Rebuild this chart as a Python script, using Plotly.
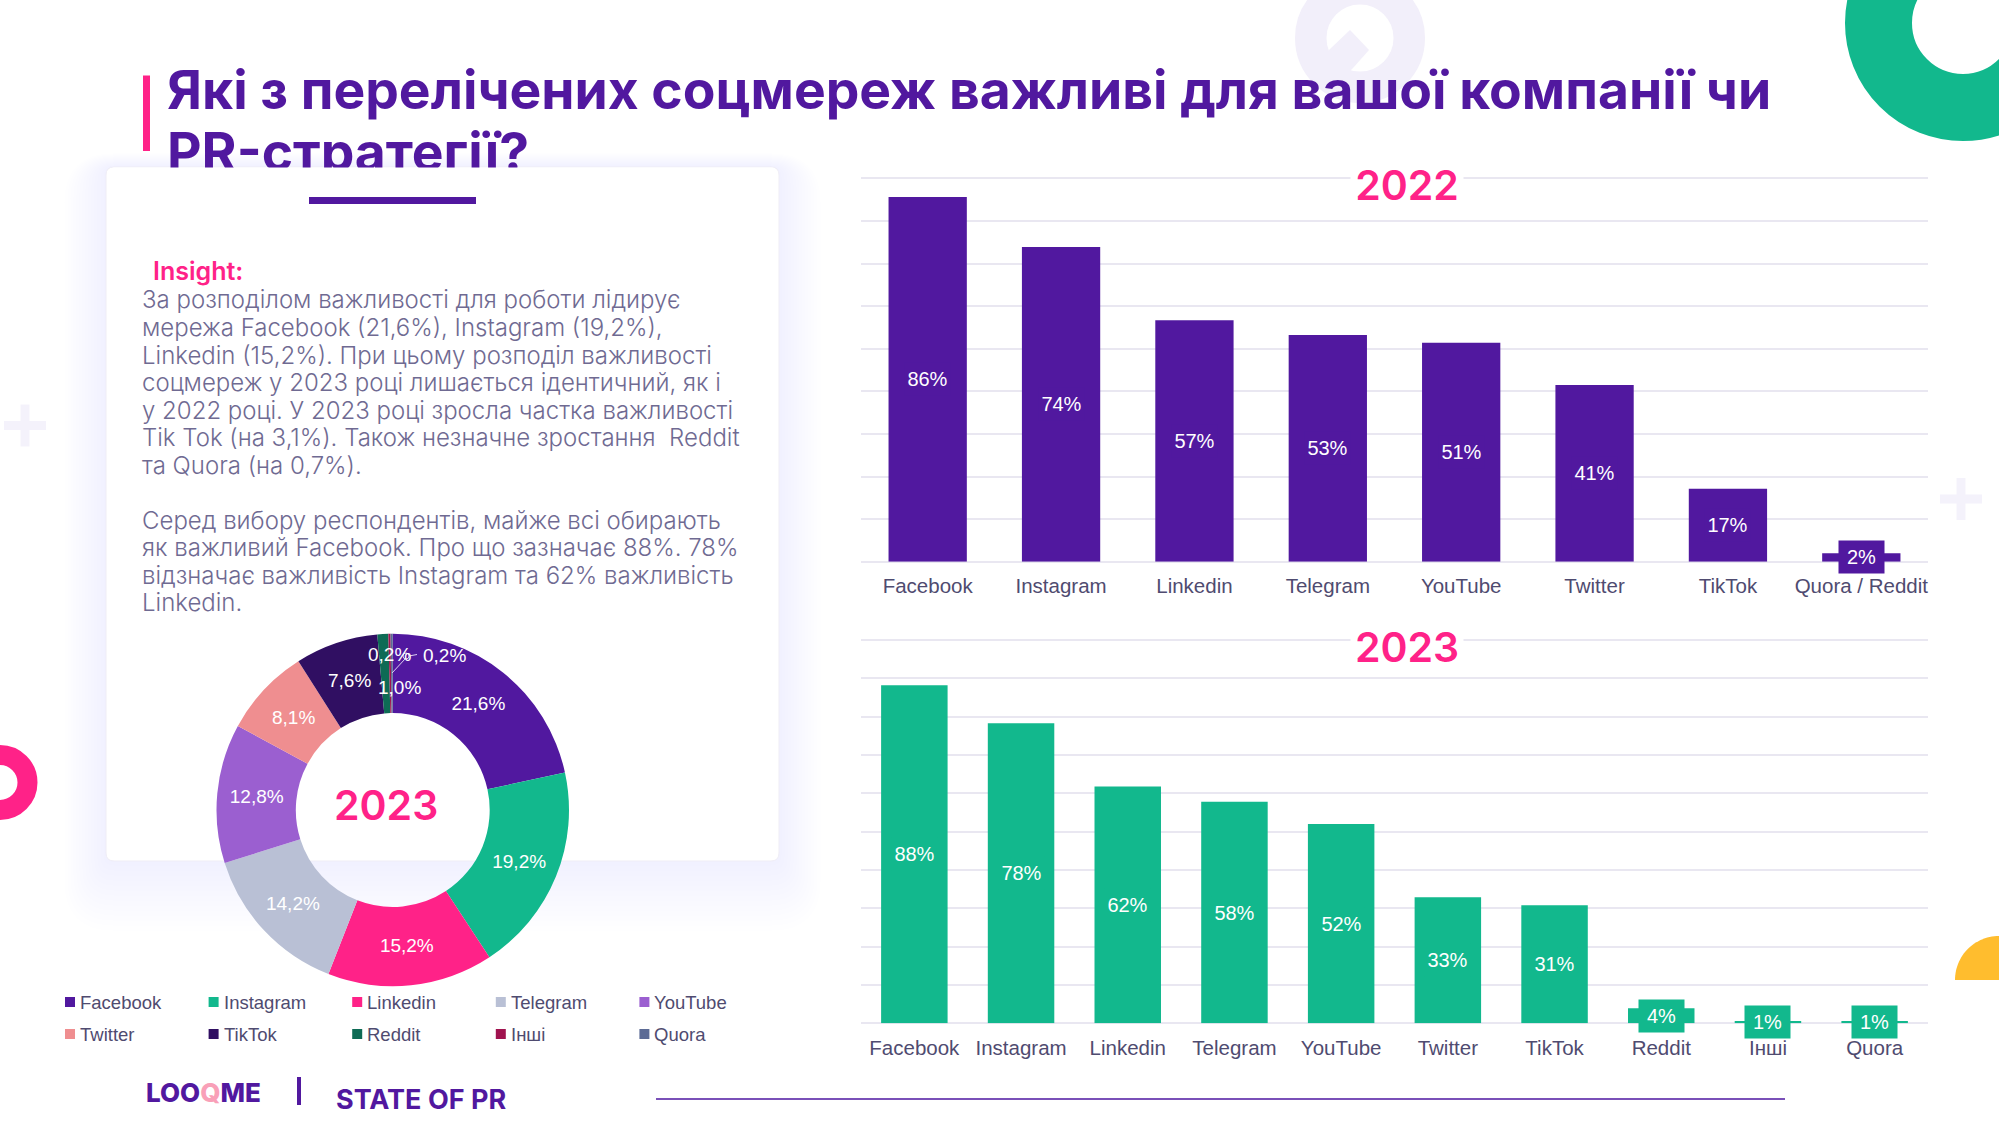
import numpy as np
import plotly.graph_objects as go

W = 1999
H = 1125

# datos
cats_2022 = ['Facebook', 'Instagram', 'Linkedin', 'Telegram', 'YouTube', 'Twitter', 'TikTok', 'Quora / Reddit']
vals_2022 = [85.6, 73.9, 56.7, 53.2, 51.4, 41.5, 17.1, 2.0]
labels_2022 = ['86%', '74%', '57%', '53%', '51%', '41%', '17%', '2%']

cats_2023 = ['Facebook', 'Instagram', 'Linkedin', 'Telegram', 'YouTube', 'Twitter', 'TikTok', 'Reddit', 'Інші', 'Quora']
vals_2023 = [88.2, 78.3, 61.8, 57.8, 52.0, 32.9, 30.8, 3.9, 0.6, 0.6]
labels_2023 = ['88%', '78%', '62%', '58%', '52%', '33%', '31%', '4%', '1%', '1%']

pie_names = ['Facebook', 'Instagram', 'Linkedin', 'Telegram', 'YouTube', 'Twitter', 'TikTok', 'Reddit', 'Інші', 'Quora']
pie_vals = [21.6, 19.2, 15.2, 14.2, 12.8, 8.1, 7.6, 1.0, 0.2, 0.2]
pie_colors = ['#51189F', '#12B88D', '#FF2288', '#B9C0D5', '#9B5FD0', '#EF8E90', '#300F62', '#0E6B55', '#A0134F', '#5C6B95']

title_lines = ['Які з перелічених соцмереж важливі для вашої компанії чи', 'PR-стратегії?']
body_lines = [
    'За розподілом важливості для роботи лідирує',
    'мережа Facebook (21,6%), Instagram (19,2%),',
    'Linkedin (15,2%). При цьому розподіл важливості',
    'соцмереж у 2023 році лишається ідентичний, як і',
    'у 2022 році. У 2023 році зросла частка важливості',
    'Tik Tok (на 3,1%). Також незначне зростання  Reddit',
    'та Quora (на 0,7%).',
    '',
    'Серед вибору респондентів, майже всі обирають',
    'як важливий Facebook. Про що зазначає 88%. 78%',
    'відзначає важливість Instagram та 62% важливість',
    'Linkedin.',
]

PURPLE = '#51189F'
GREEN = '#12B88D'
PINK = '#FF2288'
GRID = '#E9E7F1'
LAV = '#F2EFFA'
PLUS = '#F4F2FB'
TICK = '#4F4B70'
TEXT = '#6F6A92'
HEAD = 'Inter'
SANS = 'Liberation Sans'


def px(x):
    return x / W


def py(y):
    return 1 - y / H


def note(x, y, text, size, color, font=HEAD, weight=400, xa='left', ya='middle', **kw):
    return dict(x=px(x), y=py(y), xref='paper', yref='paper', text=text, showarrow=False,
                xanchor=xa, yanchor=ya, font=dict(family=font, size=size, color=color, weight=weight), **kw)


def line(x0, y0, x1, y1, color, width, layer='below', **kw):
    return dict(type='line', xref='paper', yref='paper', x0=px(x0), y0=py(y0), x1=px(x1), y1=py(y1),
                line=dict(color=color, width=width), layer=layer, **kw)


def rect(x0, y0, x1, y1, fill, **kw):
    return dict(type='rect', xref='paper', yref='paper', x0=px(x0), y0=py(y0), x1=px(x1), y1=py(y1),
                fillcolor=fill, line=dict(width=0), layer='below', **kw)


def round_rect(x0, y0, x1, y1, r, fill, border=None, **kw):
    p = lambda a, b: f'{px(a):.5f},{py(b):.5f}'
    path = (f'M {p(x0 + r, y0)} L {p(x1 - r, y0)} Q {p(x1, y0)} {p(x1, y0 + r)} '
            f'L {p(x1, y1 - r)} Q {p(x1, y1)} {p(x1 - r, y1)} '
            f'L {p(x0 + r, y1)} Q {p(x0, y1)} {p(x0, y1 - r)} '
            f'L {p(x0, y0 + r)} Q {p(x0, y0)} {p(x0 + r, y0)} Z')
    ln = dict(color=border, width=1) if border else dict(width=0)
    return dict(type='path', xref='paper', yref='paper', path=path, fillcolor=fill, line=ln, layer='below', **kw)


def ring(cx, cy, r_in, r_out, color):
    r = (r_in + r_out) / 2
    return dict(type='circle', xref='paper', yref='paper', x0=px(cx - r), y0=py(cy + r), x1=px(cx + r), y1=py(cy - r),
                fillcolor='rgba(0,0,0,0)', line=dict(color=color, width=r_out - r_in), layer='below')


def poly(points, color):
    path = 'M ' + ' L '.join(f'{px(a):.5f},{py(b):.5f}' for a, b in points) + ' Z'
    return dict(type='path', xref='paper', yref='paper', path=path, fillcolor=color, line=dict(width=0), layer='below')


fig = go.Figure()

fig.add_trace(go.Bar(x=cats_2022, y=vals_2022, marker=dict(color=PURPLE, line=dict(width=0)),
                     xaxis='x', yaxis='y', hoverinfo='x+y', showlegend=False, width=0.587))
fig.add_trace(go.Bar(x=cats_2023, y=vals_2023, marker=dict(color=GREEN, line=dict(width=0)),
                     xaxis='x2', yaxis='y2', hoverinfo='x+y', showlegend=False, width=0.623))

pie_text = [(f'{v:.1f}'.replace('.', ',') + '%') if v > 10 else '' for v in pie_vals]
fig.add_trace(go.Pie(labels=pie_names, values=pie_vals, text=pie_text, textinfo='text', textposition='inside',
                     insidetextorientation='horizontal', textfont=dict(family=SANS, size=19, color='white'),
                     marker=dict(colors=pie_colors, line=dict(width=0)), hole=0.55, sort=False,
                     direction='clockwise', rotation=0, showlegend=False,
                     domain=dict(x=[px(216.5), px(569)], y=[py(986.5), py(633.5)])))

shapes = []
annotations = []

# decoracion de fondo
shapes.append(ring(1360, 38, 33.5, 65, LAV))
shapes.append(poly([(1329, 50), (1350, 30), (1369, 50), (1353, 68), (1345, 76), (1327, 62)], LAV))
shapes.append(ring(1963, 23, 51, 118, GREEN))
shapes.append(ring(0, 782.5, 17.5, 37.5, PINK))
t = np.linspace(np.pi, np.pi * 1.5, 30)
shapes.append(poly([(1999, 980)] + [(1999 + 44 * np.cos(a), 980 + 44 * np.sin(a)) for a in t], '#FFBD2E'))
for cx, cy in [(25, 425.5), (1961, 499)]:
    shapes.append(line(cx - 21, cy, cx + 21, cy, PLUS, 9))
    shapes.append(line(cx, cy - 21, cx, cy + 21, PLUS, 9))

# tarjeta con sombra
for k in range(1, 15):
    shapes.append(round_rect(106 - 3 * k, 167 - 1 * k, 779 + 3 * k, 861 + 5 * k, 8 + 3 * k, '#403A80', opacity=0.003))
shapes.append(round_rect(106, 167, 779, 861, 8, 'white', border='#EFEDF6'))
shapes.append(line(309, 200.5, 476, 200.5, PURPLE, 7))
shapes.append(rect(143, 75.5, 150, 151, PINK))

# titulo
for i, txt in enumerate(title_lines):
    annotations.append(note(165, 89 + i * 62, txt, 53.4, PURPLE, weight=700))
# la tarjeta corta la segunda linea del titulo
annotations.append(dict(x=px(442.5), y=py(167.5), xref='paper', yref='paper', text=' ', showarrow=False,
                        xanchor='center', yanchor='top', width=660, height=20, bgcolor='white', borderpad=0))

annotations.append(note(151, 271, 'Insight:', 25, PINK, weight=600))
for i, txt in enumerate(body_lines):
    if txt:
        annotations.append(note(139.5, 300 + i * 27.5, txt, 24, TEXT, weight=300))

# etiquetas de barras
for cats, vals, labels, xr, yr, col in [(cats_2022, vals_2022, labels_2022, 'x', 'y', PURPLE),
                                        (cats_2023, vals_2023, labels_2023, 'x2', 'y2', GREEN)]:
    for c, v, lab in zip(cats, vals, labels):
        annotations.append(dict(x=c, y=v / 2, xref=xr, yref=yr, text=lab, showarrow=False, width=43, height=30,
                                bgcolor=col, font=dict(family=SANS, size=20, color='white')))

annotations.append(note(1407, 185, '2022', 41, PINK, weight=600, xa='center', bgcolor='white', width=110, height=44))
annotations.append(note(1407, 647, '2023', 41, PINK, weight=600, xa='center', bgcolor='white', width=110, height=44))
annotations.append(note(386, 805, '2023', 41, PINK, weight=600, xa='center'))

# etiquetas pequeñas del anillo
annotations.append(note(293, 717, '8,1%', 19, 'white', font=SANS, xa='center'))
annotations.append(note(349.5, 681, '7,6%', 19, 'white', font=SANS, xa='center'))
annotations.append(note(389, 654, '0,2%', 19, 'white', font=SANS, xa='center'))
annotations.append(note(444, 655, '0,2%', 19, 'white', font=SANS, xa='center'))
annotations.append(note(399, 687, '1,0%', 19, 'white', font=SANS, xa='center'))
shapes.append(line(409, 656, 417, 654.5, '#DCCFF0', 1, layer='above'))
shapes.append(line(405, 659, 392, 673, '#DCCFF0', 1, layer='above'))
shapes.append(dict(type='circle', xref='paper', yref='paper', x0=px(403), y0=py(659), x1=px(409), y1=py(653),
                   line=dict(color='#DCCFF0', width=1), layer='above'))

# leyenda
for i, (name, col) in enumerate(zip(pie_names, pie_colors)):
    lx = 65 + 143.6 * (i % 5)
    ly = 1002 + 32 * (i // 5)
    shapes.append(rect(lx, ly - 5, lx + 10, ly + 5, col))
    annotations.append(note(lx + 13, ly, name, 18.5, TICK, font=SANS))

# pie de pagina
annotations.append(note(144, 1092.5, 'LOO<span style="color:#F9A0B8">Q</span>ME', 26, PURPLE, weight=800))
shapes.append(line(299, 1077, 299, 1105, PURPLE, 4))
annotations.append(note(334, 1099, 'STATE OF PR', 27, PURPLE, weight=700))
shapes.append(line(656, 1099, 1785, 1099, '#7A50B8', 2))

axis_common = dict(tickfont=dict(family=SANS, size=20.5, color=TICK), ticks='outside', ticklen=6,
                   tickcolor='rgba(0,0,0,0)', tickangle=0, showline=False, showgrid=False, zeroline=False,
                   fixedrange=True)
grid_common = dict(showgrid=True, gridcolor=GRID, gridwidth=2, zeroline=True, zerolinecolor=GRID, zerolinewidth=2,
                   showticklabels=False, ticks='', dtick=10, showline=False, fixedrange=True)

fig.update_layout(
    width=W,
    height=H,
    margin=dict(l=0, r=0, t=0, b=0),
    paper_bgcolor='white',
    plot_bgcolor='rgba(0,0,0,0)',
    showlegend=False,
    xaxis=dict(domain=[px(861), px(1928)], anchor='y', type='category', **axis_common),
    yaxis=dict(domain=[py(561.7), py(176.6)], anchor='x', range=[0, 90.4], **grid_common),
    xaxis2=dict(domain=[px(861), px(1928)], anchor='y2', type='category', **axis_common),
    yaxis2=dict(domain=[py(1023.3), py(638.1)], anchor='x2', range=[0, 100.5], **grid_common),
    shapes=shapes,
    annotations=annotations,
)

fig.write_html('out.html', config=dict(displayModeBar=False),
               post_script="document.body.style.margin='0';document.body.style.overflow='hidden';")
